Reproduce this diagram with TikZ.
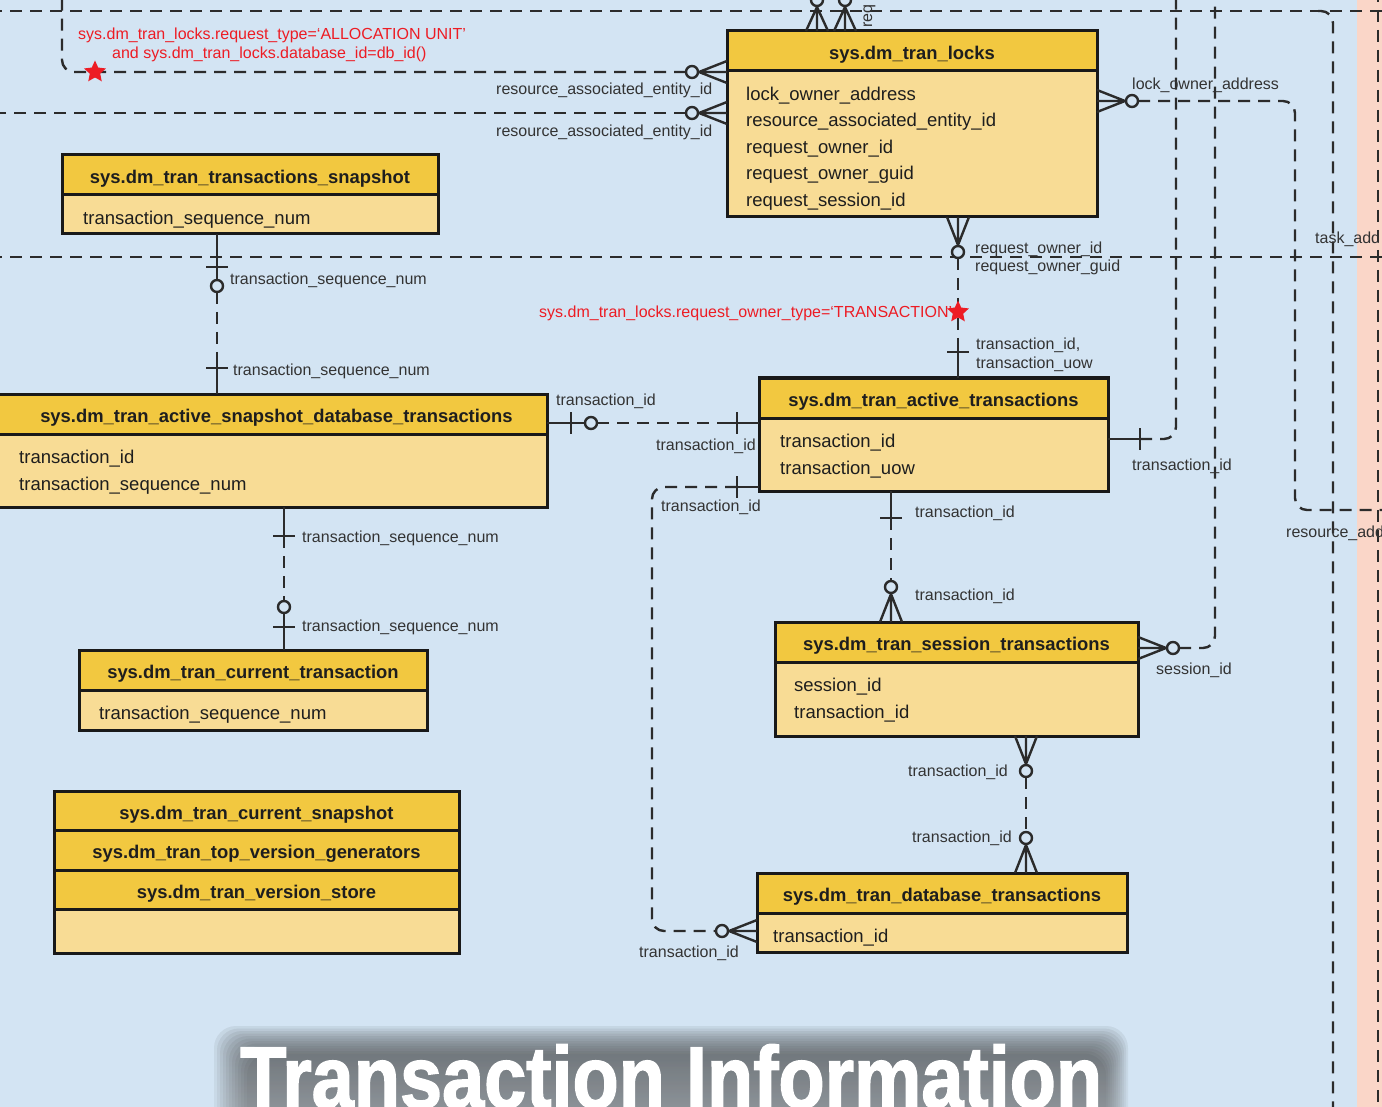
\documentclass[tikz,border=0pt]{standalone}
\usepackage{fontspec}
\setmainfont{Liberation Sans}
\newfontfamily\titlefont{Liberation Sans Bold}[FakeStretch=0.86, FakeBold=1.6]
\usetikzlibrary{shapes.geometric,calc}
\definecolor{bg}{HTML}{D3E4F3}
\definecolor{hdr}{HTML}{F2C840}
\definecolor{bdy}{HTML}{F8DC95}
\definecolor{pinkstrip}{HTML}{FAD6C8}
\definecolor{ink}{HTML}{2B2B2B}
\definecolor{lbl}{HTML}{333333}
\definecolor{txtdark}{HTML}{1E1E1E}
\definecolor{redtxt}{HTML}{ED1C24}
\definecolor{shade}{HTML}{3C4250}
\newcommand\labfont{\fontsize{16}{19}\selectfont}
\newcommand\fldfont{\fontsize{18.5}{22}\selectfont}
\newcommand\ttlfont{\fontsize{18.4}{22}\selectfont\bfseries}
\tikzset{
  conn/.style={draw=ink, line width=2.4pt, line join=round},
  dsh/.style={conn, dash pattern=on 12pt off 8pt},
  lab/.style={font=\labfont, text=lbl, inner sep=0pt, anchor=west, text height=11.5pt, text depth=3.5pt, yshift=-3pt},
  redlab/.style={lab, text=redtxt},
  fld/.style={font=\fldfont, text=txtdark, inner sep=0pt, anchor=west, text height=13.3pt, text depth=4.3pt, yshift=-3pt},
  ttl/.style={font=\ttlfont, text=txtdark, inner sep=0pt, text height=13.3pt, text depth=4.3pt, yshift=-4pt},
  boxbody/.style={fill=bdy, draw=none, inner sep=0pt, outer sep=0pt},
  boxframe/.style={draw=black!90, line width=3pt},
  redstar/.style={star, star points=5, star point ratio=2.1, fill=redtxt, draw=none, minimum size=23pt, inner sep=0pt},
  pics/crow/.style={code={\draw[conn] (0,-11) -- (#1,0) -- (0,11) (0,0) -- (#1,0);}},
  pics/crow/.default=28,
  pics/circ/.style={code={\draw[conn, fill=bg] (0,0) circle[radius=6];}},
  pics/bar/.style={code={\draw[conn] (0,-11) -- (0,11);}},
}
\newcommand\erbox[7][0]{%
  \node[boxbody, minimum width=#5, minimum height=#6, anchor=north west] (#2) at (#3,#4) {};
  \fill[hdr] (#2.north west) rectangle ($(#2.north east)+(0,40)$);
  \draw[boxframe] ($(#2.north west)+(0,40)$) -- ($(#2.north east)+(0,40)$);
  \draw[boxframe] (#2.north west) rectangle (#2.south east);
  \node[ttl] (#2-t) at ($(#2.north)+(#1,20)$) {#7};
}
\newcommand\fields[3]{%
  \foreach \f [count=\i from 0] in {#3}
    \node[fld] (#1-f\i) at ($(#1.north west)+(#2,62+26.5*\i)$) {\f};
}
\begin{document}
\begin{tikzpicture}[x=1pt,y=-1pt]
\useasboundingbox (0,0) rectangle (1382,1107);
\clip (0,0) rectangle (1382,1107);
\fill[bg] (0,0) rectangle (1382,1107);
\fill[pinkstrip] (1357,0) rectangle (1382,1107);

% ---------------- boxes
\erbox{locks}{727}{31}{370}{186}{sys.dm\_tran\_locks}
\fields{locks}{19}{lock\_owner\_address,resource\_associated\_entity\_id,request\_owner\_id,request\_owner\_guid,request\_session\_id}
\erbox{snap}{62}{155}{376}{79}{sys.dm\_tran\_transactions\_snapshot}
\fields{snap}{21}{transaction\_sequence\_num}
\erbox[8]{asdt}{-10}{394}{557}{113}{sys.dm\_tran\_active\_snapshot\_database\_transactions}
\fields{asdt}{29}{transaction\_id,transaction\_sequence\_num}
\erbox{act}{759}{378}{349}{113}{sys.dm\_tran\_active\_transactions}
\fields{act}{21}{transaction\_id,transaction\_uow}
\erbox{sess}{775}{622}{363}{114}{sys.dm\_tran\_session\_transactions}
\fields{sess}{19}{session\_id,transaction\_id}
\erbox{cur}{79}{650}{348}{80}{sys.dm\_tran\_current\_transaction}
\fields{cur}{20}{transaction\_sequence\_num}
\erbox{dbt}{757}{873}{370}{79}{sys.dm\_tran\_database\_transactions}
\fields{dbt}{16}{transaction\_id}

\node[boxbody, minimum width=405, minimum height=162, anchor=north west] (stack) at (54,791) {};
\fill[hdr] (stack.north west) rectangle ($(stack.north east)+(0,118)$);
\foreach \d in {39,79,118}
  \draw[boxframe] ($(stack.north west)+(0,\d)$) -- ($(stack.north east)+(0,\d)$);
\draw[boxframe] (stack.north west) rectangle (stack.south east);
\node[ttl] (stack-t1) at ($(stack.north)+(0,19.5)$) {sys.dm\_tran\_current\_snapshot};
\node[ttl] (stack-t2) at ($(stack.north)+(0,59)$) {sys.dm\_tran\_top\_version\_generators};
\node[ttl] (stack-t3) at ($(stack.north)+(0,98.5)$) {sys.dm\_tran\_version\_store};

% ---------------- free dashed lines
\coordinate (h1a) at (-10,11); \coordinate (h1b) at (1392,11);
\draw[dsh] (h1a) -- (h1b);
\coordinate (h2a) at (-10,257); \coordinate (h2b) at (1392,257);
\draw[dsh] (h2a) -- (h2b);
\coordinate (v1a) at (1318,11); \coordinate (v1b) at (1333,1117);
\draw[dsh, rounded corners=12pt] (v1a) -- (1333,11) -- (v1b);
\coordinate (v2a) at (1378,-10); \coordinate (v2b) at (1378,1117);
\draw[dsh] (v2a) -- (v2b);

% ---------------- C1 allocation unit
\coordinate (c1) at (locks.west |- 0,72);
\coordinate (c1e) at (62,-10);
\draw[dsh, rounded corners=12pt] ($(c1)+(-41,0)$) -- (62,72) -- (c1e);
\pic[rotate=180] at (c1) {crow};
\pic at ($(c1)+(-35,0)$) {circ};
\node[redstar] (star1) at (95,72) {};

% ---------------- C2
\coordinate (c2) at (locks.west |- 0,113);
\coordinate (c2e) at (-10,113);
\draw[dsh] ($(c2)+(-41,0)$) -- (c2e);
\pic[rotate=180] at (c2) {crow};
\pic at ($(c2)+(-35,0)$) {circ};

% ---------------- C3 top crows
\foreach \xx [count=\k] in {817,845} {
  \coordinate (c3-\k) at (\xx,0 |- locks.north);
  \coordinate (c3e-\k) at (\xx,-20);
  \draw[dsh] ($(c3-\k)+(0,-37)$) -- (c3e-\k);
  \pic[rotate=90] at (c3-\k) {crow=24};
  \pic at ($(c3-\k)+(0,-31)$) {circ};
}

% ---------------- C4 lock_owner_address
\coordinate (c4) at (locks.east |- 0,101);
\coordinate (c4e) at (1392,510);
\draw[dsh, rounded corners=12pt] ($(c4)+(41,0)$) -- (1295,101) -- (1295,510) -- (c4e);
\pic at (c4) {crow};
\pic at ($(c4)+(35,0)$) {circ};

% ---------------- C5 locks -> active transactions
\coordinate (c5a) at (958,0 |- locks.south);
\coordinate (c5b) at (958,0 |- act.north);
\draw[dsh] ($(c5a)+(0,41)$) -- ($(c5b)+(0,-31)$);
\draw[conn] ($(c5b)+(0,-31)$) -- (c5b);
\pic[rotate=-90] at (c5a) {crow};
\pic at ($(c5a)+(0,35)$) {circ};
\pic[rotate=90] at ($(c5b)+(0,-26)$) {bar};
\node[redstar] (star2) at (958,312) {};

% ---------------- C6 snapshot -> active snapshot db
\coordinate (c6a) at (217,0 |- snap.south);
\coordinate (c6b) at (217,0 |- asdt.north);
\draw[conn] (c6a) -- ($(c6a)+(0,46)$);
\draw[dsh] ($(c6a)+(0,58)$) -- ($(c6b)+(0,-36)$);
\draw[conn] ($(c6b)+(0,-36)$) -- (c6b);
\pic[rotate=90] at ($(c6a)+(0,33)$) {bar};
\pic at ($(c6a)+(0,52)$) {circ};
\pic[rotate=90] at ($(c6b)+(0,-26)$) {bar};

% ---------------- C7 asdt -> active
\coordinate (c7a) at (asdt.east |- 0,423);
\coordinate (c7b) at (act.west |- 0,423);
\draw[conn] (c7a) -- ($(c7a)+(38,0)$);
\draw[dsh] ($(c7a)+(50,0)$) -- ($(c7b)+(-30,0)$);
\draw[conn] ($(c7b)+(-30,0)$) -- (c7b);
\pic at ($(c7a)+(24,0)$) {bar};
\pic at ($(c7a)+(44,0)$) {circ};
\pic at ($(c7b)+(-22,0)$) {bar};

% ---------------- C8 asdt -> current transaction
\coordinate (c8a) at (284,0 |- asdt.south);
\coordinate (c8b) at (284,0 |- cur.north);
\draw[conn] (c8a) -- ($(c8a)+(0,29)$);
\draw[dsh] ($(c8a)+(0,29)$) -- ($(c8b)+(0,-49)$);
\draw[conn] ($(c8b)+(0,-37)$) -- (c8b);
\pic[rotate=90] at ($(c8a)+(0,29)$) {bar};
\pic at ($(c8b)+(0,-43)$) {circ};
\pic[rotate=90] at ($(c8b)+(0,-23)$) {bar};

% ---------------- C9 active -> database transactions
\coordinate (c9a) at (act.west |- 0,487);
\coordinate (c9b) at (dbt.west |- 0,931);
\draw[conn] (c9a) -- ($(c9a)+(-22,0)$);
\draw[dsh, rounded corners=12pt] ($(c9a)+(-22,0)$) -- (652,487) -- (652,931) -- ($(c9b)+(-41,0)$);
\pic at ($(c9a)+(-22,0)$) {bar};
\pic[rotate=180] at (c9b) {crow};
\pic at ($(c9b)+(-35,0)$) {circ};

% ---------------- C10 active -> session
\coordinate (c10a) at (891,0 |- act.south);
\coordinate (c10b) at (891,0 |- sess.north);
\draw[conn] (c10a) -- ($(c10a)+(0,27)$);
\draw[dsh] ($(c10a)+(0,27)$) -- ($(c10b)+(0,-41)$);
\pic[rotate=90] at ($(c10a)+(0,27)$) {bar};
\pic[rotate=90] at (c10b) {crow};
\pic at ($(c10b)+(0,-35)$) {circ};

% ---------------- C11 session right
\coordinate (c11) at (sess.east |- 0,648);
\coordinate (c11e) at (1215,-10);
\draw[dsh, rounded corners=12pt] ($(c11)+(41,0)$) -- (1215,648) -- (c11e);
\pic at (c11) {crow};
\pic at ($(c11)+(35,0)$) {circ};

% ---------------- C12 session -> database transactions
\coordinate (c12a) at (1026,0 |- sess.south);
\coordinate (c12b) at (1026,0 |- dbt.north);
\draw[dsh] ($(c12a)+(0,41)$) -- ($(c12b)+(0,-41)$);
\pic[rotate=-90] at (c12a) {crow};
\pic at ($(c12a)+(0,35)$) {circ};
\pic[rotate=90] at (c12b) {crow};
\pic at ($(c12b)+(0,-35)$) {circ};

% ---------------- C13 active right
\coordinate (c13) at (act.east |- 0,439);
\coordinate (c13e) at (1176,-10);
\draw[conn] (c13) -- ($(c13)+(32,0)$);
\draw[dsh, rounded corners=12pt] ($(c13)+(32,0)$) -- (1176,439) -- (c13e);
\pic at ($(c13)+(32,0)$) {bar};

% ---------------- labels
\node[lab] (l1) at (496,88) {resource\_associated\_entity\_id};
\node[lab] (l2) at (496,130) {resource\_associated\_entity\_id};
\node[lab] (l3) at (1132,83) {lock\_owner\_address};
\node[lab] (l4) at (975,247) {request\_owner\_id};
\node[lab] (l5) at (975,265) {request\_owner\_guid};
\node[lab] (l6) at (1315,237) {task\_add};
\node[lab] (l7) at (1286,530) {resource\_add};
\node[lab] (l8) at (1132,463) {transaction\_id};
\node[lab] (l9) at (1156,667) {session\_id};
\node[lab] (l10) at (976,343) {transaction\_id,};
\node[lab] (l11) at (976,362) {transaction\_uow};
\node[lab] (l12) at (230,278) {transaction\_sequence\_num};
\node[lab] (l13) at (233,368) {transaction\_sequence\_num};
\node[lab] (l14) at (556,399) {transaction\_id};
\node[lab] (l15) at (656,443) {transaction\_id};
\node[lab] (l16) at (661,504) {transaction\_id};
\node[lab] (l17) at (915,510) {transaction\_id};
\node[lab] (l18) at (915,593) {transaction\_id};
\node[lab] (l19) at (302,535) {transaction\_sequence\_num};
\node[lab] (l20) at (302,624) {transaction\_sequence\_num};
\node[lab] (l21) at (908,769) {transaction\_id};
\node[lab] (l22) at (912,835) {transaction\_id};
\node[lab] (l23) at (639,950) {transaction\_id};
\node[lab, rotate=90, yshift=0pt, xshift=-3pt] (l24) at (868,22) {req};
\node[redlab] (r1) at (78,33) {sys.dm\_tran\_locks.request\_type=‘ALLOCATION UNIT’};
\node[redlab] (r2) at (112,52) {and sys.dm\_tran\_locks.database\_id=db\_id()};
\node[redlab] (r3) at (539,311) {sys.dm\_tran\_locks.request\_owner\_type=‘TRANSACTION’};

% ---------------- title with soft shadow
\foreach \i in {0,...,11}
  \fill[shade, opacity=0.045, rounded corners=22pt] (214+3*\i,1026+2.5*\i) rectangle (1128-2*\i,1130);
\node[anchor=base west, inner sep=0pt, text=white, font={\titlefont\fontsize{88}{96}\selectfont}] (title) at (240,1108) {Transaction Information};
\end{tikzpicture}
\end{document}
